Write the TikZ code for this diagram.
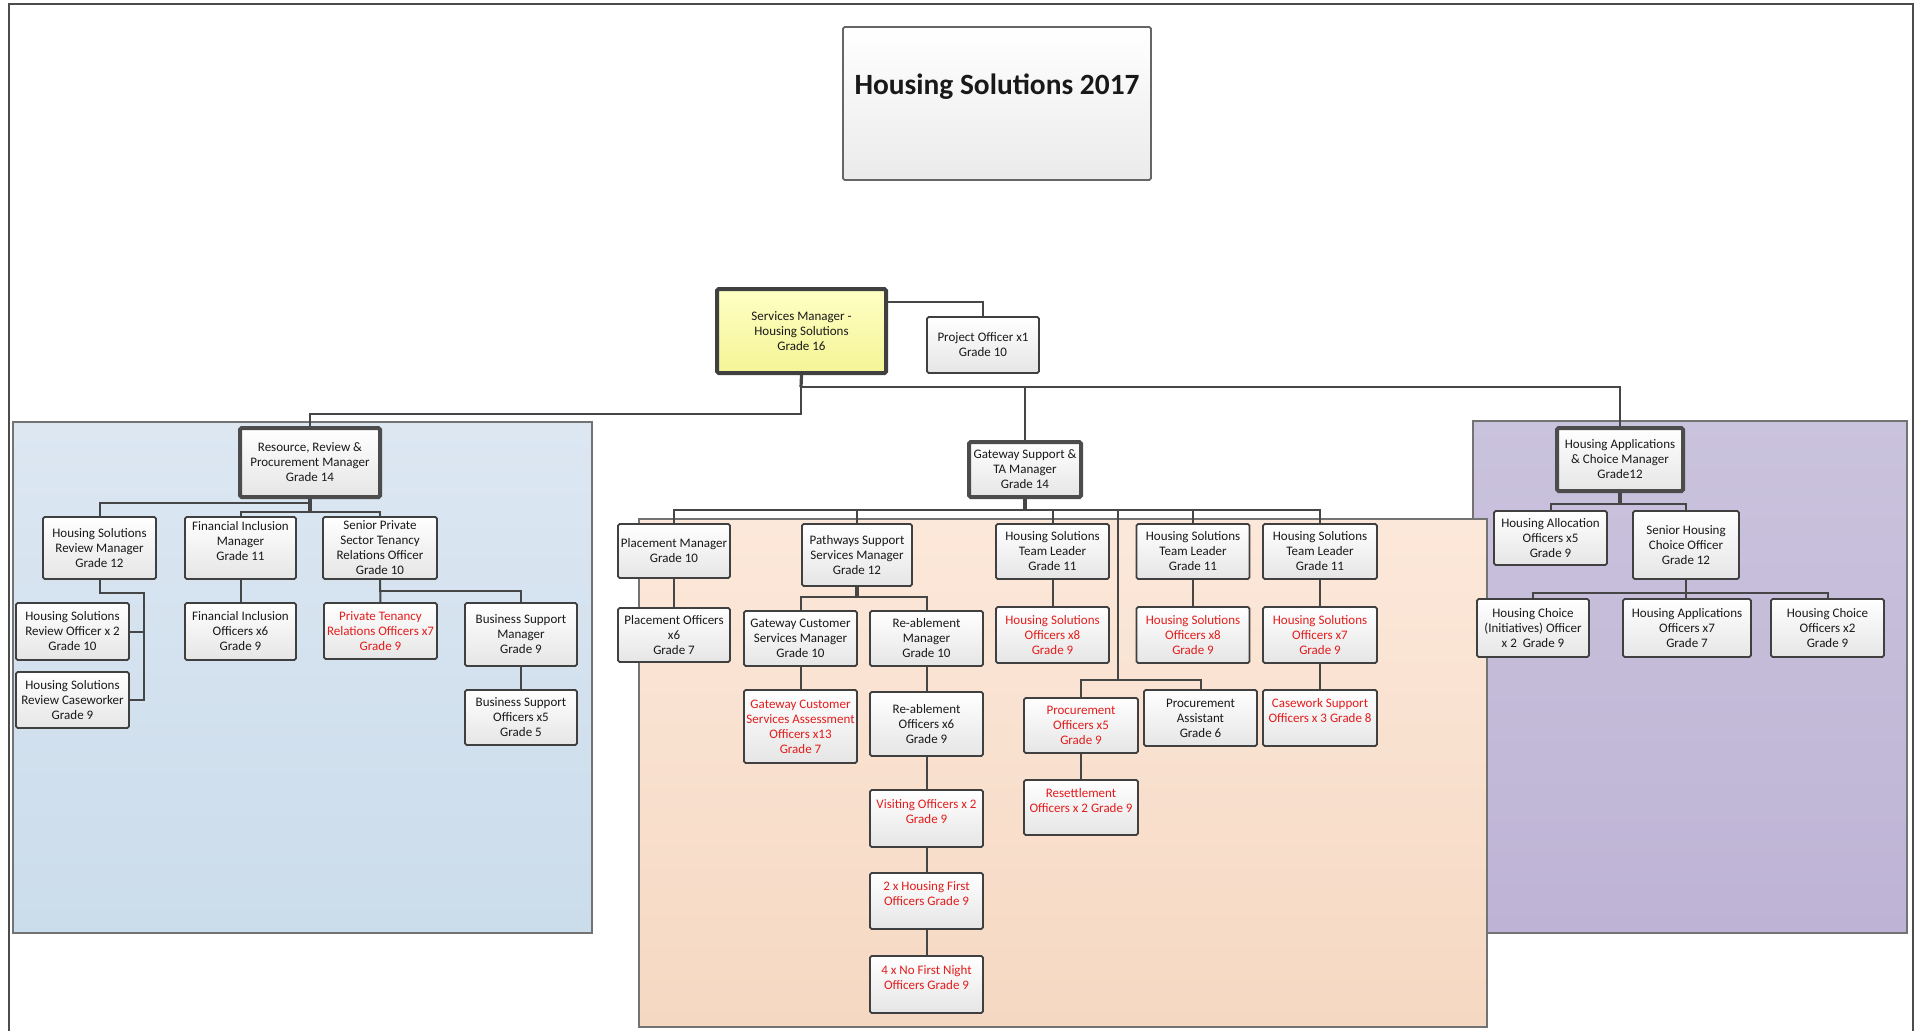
\documentclass[tikz,border=0pt]{standalone}
\usepackage{fontspec}
\setmainfont{Carlito}
\usetikzlibrary{positioning}

\definecolor{bluetop}{RGB}{220,231,242}
\definecolor{bluebot}{RGB}{203,220,235}
\definecolor{peachtop}{RGB}{252,232,218}
\definecolor{peachbot}{RGB}{245,216,194}
\definecolor{lilactop}{RGB}{202,195,221}
\definecolor{lilacbot}{RGB}{190,179,213}
\definecolor{smtop}{RGB}{255,255,196}
\definecolor{smbot}{RGB}{244,244,150}
\definecolor{newred}{RGB}{228,28,28}
\definecolor{linegray}{RGB}{70,70,70}

\newcommand\chartfont{\fontsize{6.5pt}{7.5pt}\selectfont}

\begin{document}
\begin{tikzpicture}[x=0.5pt, y=-0.5pt,
    orgline/.style = {draw=linegray, line width=1pt},
    stem/.style = {orgline, line width=1.6pt},
    postbox/.style = {draw=black!75, line width=0.9pt, top color=white, bottom color=black!10,
        rounded corners=0.8pt, align=center, inner xsep=0pt, inner ysep=0pt, font=\chartfont,
        text=black!90, minimum width=56.5pt, minimum height=27.5pt},
    redpost/.style = {postbox, text=newred},
    headpost/.style = {postbox, line width=2pt, draw=black!70},
    panel/.style = {draw=black!55, line width=1pt}]

    \useasboundingbox (0,0) rectangle (1914,1030);

    % panels
    \draw[panel, top color=lilactop, bottom color=lilacbot] (1473,421) rectangle (1907,933);
    \draw[panel, top color=bluetop, bottom color=bluebot] (13,422) rectangle (592,933);
    \draw[panel, top color=peachtop, bottom color=peachbot] (639,519) rectangle (1487,1027);
    \draw[black!70, line width=1pt] (9,1040) -- (9,4) -- (1913,4) -- (1913,1040);

    % title
    \node[postbox, draw=black!60, bottom color=black!8, minimum width=154pt, minimum height=76.5pt,
        font=\bfseries\fontsize{14.7pt}{17pt}\selectfont, text height=10pt, text depth=19.5pt]
        (title) at (997,103.5) {Housing Solutions 2017};

    % top posts
    \node[postbox, top color=smtop, bottom color=smbot, line width=2pt, minimum width=84.5pt,
        minimum height=42pt] (sm) at (801.5,331) {Services Manager -\\Housing Solutions\\Grade 16};
    \node[postbox, minimum width=56pt, minimum height=28pt] (po) at (983,345) {Project Officer x1\\Grade 10};

    % heads of service
    \node[headpost, minimum width=70pt, minimum height=34.5pt] (res) at (310,462.5)
        {Resource, Review \&\\Procurement Manager\\Grade 14};
    \node[headpost, minimum width=56pt] (gate) at (1025,469.5) {Gateway Support \&\\TA Manager\\Grade 14};
    \node[headpost, minimum width=63pt, minimum height=31.5pt] (hac) at (1620,459.5)
        {Housing Applications\\\& Choice Manager\\Grade12};

    % resource, review & procurement
    \node[postbox, minimum height=31pt] (hsrm) at (99.5,548) {Housing Solutions\\Review Manager\\Grade 12};
    \node[postbox, minimum width=55.5pt, minimum height=31pt] (fim) at (240.5,548) {Financial Inclusion\\Manager\\Grade 11\\~};
    \node[postbox, minimum width=57pt, minimum height=31pt] (spstro) at (380,548)
        {Senior Private\\Sector Tenancy\\Relations Officer\\Grade 10};
    \node[postbox, minimum height=28.5pt] (hsro) at (72.5,631.5) {Housing Solutions\\Review Officer x 2\\Grade 10};
    \node[postbox, minimum height=28pt] (hsrc) at (72.5,700) {Housing Solutions\\Review Caseworker\\Grade 9};
    \node[postbox, minimum width=55.5pt, minimum height=28.5pt] (fio) at (240.5,631.5) {Financial Inclusion\\Officers x6\\Grade 9};
    \node[redpost, minimum height=28pt] (ptro) at (380.5,631) {Private Tenancy\\Relations Officers x7\\Grade 9};
    \node[postbox, minimum width=56pt, minimum height=31.5pt] (bsm) at (521,634.5) {Business Support\\Manager\\Grade 9};
    \node[postbox, minimum width=56pt] (bso) at (521,717.5) {Business Support\\Officers x5\\Grade 5};

    % gateway support & TA
    \node[postbox, minimum width=56pt, minimum height=27pt] (pm) at (674,551) {Placement Manager\\Grade 10};
    \node[postbox, minimum width=56pt, minimum height=27pt] (pof) at (674,635) {Placement Officers\\x6\\Grade 7};
    \node[postbox, minimum width=55pt, minimum height=31pt] (pssm) at (857,555) {Pathways Support\\Services Manager\\Grade 12};
    \node[postbox] (gcsm) at (800.5,638.5) {Gateway Customer\\Services Manager\\Grade 10};
    \node[postbox] (ram) at (926.5,638.5) {Re-ablement\\Manager\\Grade 10};
    \node[redpost, minimum height=36.5pt] (gcsao) at (800.5,726.5)
        {Gateway Customer\\Services Assessment\\Officers x13\\Grade 7};
    \node[postbox, minimum height=32pt] (rao) at (926.5,724) {Re-ablement\\Officers x6\\Grade 9};
    \node[redpost, minimum height=28.5pt] (vis) at (926.5,818.5) {Visiting Officers x 2\\Grade 9\\~};
    \node[redpost, minimum height=28pt] (hfo) at (926.5,901) {2 x Housing First\\Officers Grade 9\\~};
    \node[redpost, minimum height=28.5pt] (nfn) at (926.5,984.5) {4 x No First Night\\Officers Grade 9\\~};
    \node[postbox] (tla) at (1052.5,551.5) {Housing Solutions\\Team Leader\\Grade 11};
    \node[postbox] (tlb) at (1193,551.5) {Housing Solutions\\Team Leader\\Grade 11};
    \node[postbox, minimum width=57pt] (tlc) at (1320,551.5) {Housing Solutions\\Team Leader\\Grade 11};
    \node[redpost, minimum height=28pt] (hsoa) at (1052.5,635) {Housing Solutions\\Officers x8\\Grade 9};
    \node[redpost, minimum height=28pt] (hsob) at (1193,635) {Housing Solutions\\Officers x8\\Grade 9};
    \node[redpost, minimum width=57pt, minimum height=28pt] (hsoc) at (1320,635) {Housing Solutions\\Officers x7\\Grade 9};
    \node[redpost, minimum width=57pt] (proc) at (1081,725.5) {Procurement\\Officers x5\\Grade 9};
    \node[postbox, minimum height=28pt] (pas) at (1200.5,718) {Procurement\\Assistant\\Grade 6};
    \node[redpost, minimum width=57pt, minimum height=28pt] (cso) at (1320,718) {Casework Support\\Officers x 3 Grade 8\\~};
    \node[redpost, minimum width=57pt] (reso) at (1081,807.5) {Resettlement\\Officers x 2 Grade 9\\~};

    % housing applications & choice
    \node[postbox, minimum height=27pt] (hao) at (1550.5,538) {Housing Allocation\\Officers x5\\Grade 9};
    \node[postbox, minimum width=53pt, minimum height=34pt] (shco) at (1686,545) {Senior Housing\\Choice Officer\\Grade 12};
    \node[postbox, minimum width=56pt, minimum height=29pt] (hcio) at (1533,628) {Housing Choice\\(Initiatives) Officer\\x 2\ \ Grade 9};
    \node[postbox, minimum width=64pt, minimum height=29pt] (hapo) at (1687,628) {Housing Applications\\Officers x7\\Grade 7};
    \node[postbox, minimum height=29pt] (hco) at (1827.5,628) {Housing Choice\\Officers x2\\Grade 9};

    % top links
    \coordinate (topbus) at (801,387);
    \coordinate (leftbus) at (801,414);
    \draw[stem] (sm.south) -- (topbus);
    \draw[orgline] (topbus) -| (hac.north);
    \draw[orgline] (topbus) -| (gate.north);
    \draw[orgline] (topbus) -- (leftbus) -| (res.north);
    \draw[orgline] ([yshift=-7.5pt]sm.north east) -| (po.north);

    % resource links
    \coordinate (resbus) at (310,503);
    \coordinate (resfork) at (310,512);
    \coordinate (rvturn) at (144,593);
    \draw[stem] (res.south) -- (resfork);
    \draw[orgline] (resbus) -| (hsrm.north);
    \draw[orgline] (fim.north) |- (resfork) -| (spstro.north);
    \draw[orgline] (hsrm.south) |- (rvturn) |- (hsrc.east);
    \draw[orgline] (hsro.east) -| (rvturn);
    \draw[orgline] (fim.south) -- (fio.north);
    \draw[orgline] (spstro.south) -- (ptro.north);
    \draw[orgline] (spstro.south) -- ++(0,11) -| (bsm.north);
    \draw[orgline] (bsm.south) -- (bso.north);

    % gateway links
    \coordinate (gbus) at (1025,510);
    \coordinate (pbus) at (857,597);
    \coordinate (pspine) at (1118,680);
    \draw[stem] (gate.south) -- (gbus);
    \draw[orgline] (pm.north) |- (gbus) -| (tlc.north);
    \foreach \boxname in {pssm,tla,tlb}
        \draw[orgline] (\boxname.north) -- (\boxname.north |- gbus);
    \draw[orgline] (pm.south) -- (pof.north);
    \draw[stem] (pssm.south) -- (pbus);
    \draw[orgline] (gcsm.north) |- (pbus) -| (ram.north);
    \draw[orgline] (gcsm.south) -- (gcsao.north);
    \draw[orgline] (ram.south) -- (rao.north) (rao.south) -- (vis.north)
        (vis.south) -- (hfo.north) (hfo.south) -- (nfn.north);
    \foreach \boss/\crew in {tla/hsoa,tlb/hsob,tlc/hsoc}
        \draw[orgline] (\boss.south) -- (\crew.north);
    \draw[orgline] (hsoc.south) -- (cso.north);
    \draw[orgline] (pspine |- gbus) -- (pspine);
    \draw[orgline] (proc.north) |- (pspine) -| (pas.north);
    \draw[orgline] (proc.south) -- (reso.north);

    % applications links
    \coordinate (hbus) at (1620,504);
    \coordinate (sbus) at (1686,593);
    \draw[stem] (hac.south) -- (hbus);
    \draw[orgline] (hao.north) |- (hbus) -| (shco.north);
    \draw[orgline] (shco.south) -- (sbus);
    \draw[orgline] (hcio.north) |- (sbus) -| (hco.north);
    \draw[orgline] (sbus) -- (sbus |- hapo.north);

\end{tikzpicture}
\end{document}
